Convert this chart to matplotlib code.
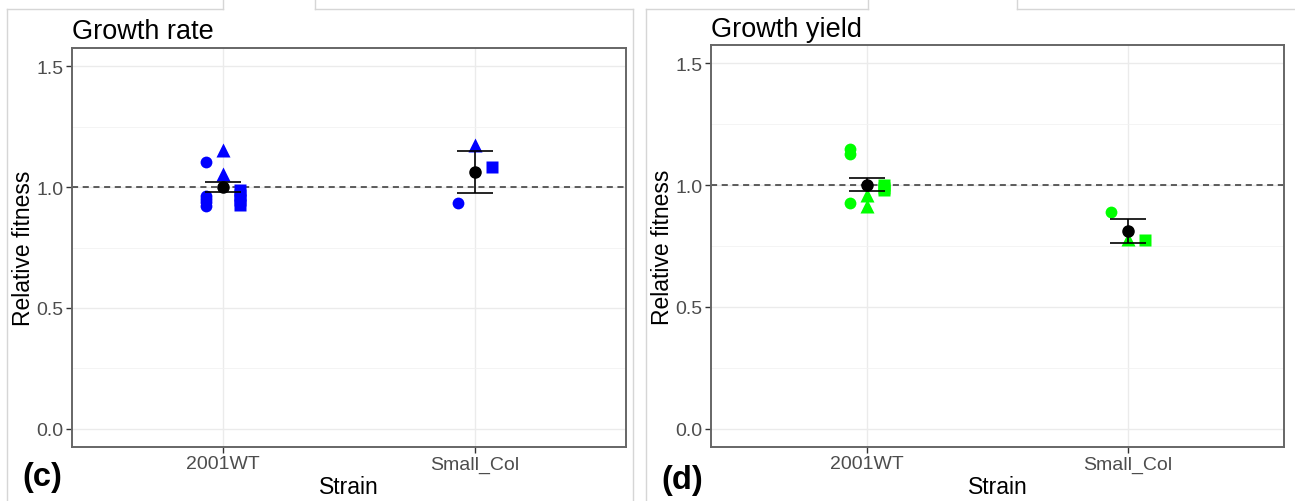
import matplotlib
matplotlib.use("Agg")
import matplotlib.pyplot as plt
from matplotlib.lines import Line2D
from matplotlib.ticker import MultipleLocator
import numpy as np

plt.rcParams['font.family'] = ['Liberation Sans', 'DejaVu Sans']

strains = ["2001WT", "Small_Col"]

# Growth rate replicates (relative fitness), grouped by replicate set / marker shape
rate_circle = {"2001WT": [1.102, 0.963, 0.950, 0.937, 0.923], "Small_Col": [0.933]}
rate_triangle = {"2001WT": [1.153, 1.052], "Small_Col": [1.174]}
rate_square = {"2001WT": [0.988, 0.967, 0.947, 0.926], "Small_Col": [1.084]}
rate_mean = [1.000, 1.062]
rate_err = [0.021, 0.085]

# Growth yield replicates
yield_circle = {"2001WT": [1.150, 1.127, 0.928], "Small_Col": [0.888]}
yield_triangle = {"2001WT": [0.958, 0.915], "Small_Col": [0.780]}
yield_square = {"2001WT": [1.000, 0.990, 0.979], "Small_Col": [0.774]}
yield_mean = [1.002, 0.811]
yield_err = [0.026, 0.048]

y_ticks = [0.0, 0.5, 1.0, 1.5]
y_tick_labels = ["0.0", "0.5", "1.0", "1.5"]

W, H = 1295, 502
fig = plt.figure(figsize=(W / 100, H / 100), dpi=100)

def box(l, t, r, b):
    return [l / W, 1 - b / H, (r - l) / W, (b - t) / H]

ax1 = fig.add_axes(box(72, 49, 626, 448))
ax2 = fig.add_axes(box(711, 46, 1284, 448))

tick_col = "#4d4d4d"
dodge = 0.066

def draw_panel(ax, circ, tri, sq, means, errs, color, title, tag, title_xy, tag_xy):
    ax.set_xlim(0.4, 2.6)
    ax.set_ylim(-0.075, 1.575)
    ax.set_yticks(y_ticks)
    ax.set_yticklabels(y_tick_labels)
    ax.yaxis.set_minor_locator(MultipleLocator(0.25))
    ax.set_xticks([1, 2])
    ax.set_xticklabels(strains)
    ax.grid(True, which="major", color="#ebebeb", lw=1.0, zorder=0)
    ax.grid(True, which="minor", axis="y", color="#f2f2f2", lw=0.6, zorder=0)
    ax.set_axisbelow(True)
    ax.tick_params(axis="both", which="major", length=4, width=1, color="#333333",
                   labelcolor=tick_col, labelsize=14, pad=2)
    ax.tick_params(axis="y", which="minor", length=0)
    for s in ax.spines.values():
        s.set_color("#666666")
        s.set_linewidth(1.4)

    ax.axhline(1.0, color="#333333", lw=1.1, ls=(0, (4, 3)), zorder=2)

    for i, st in enumerate(strains):
        x = i + 1
        ax.plot([x - dodge] * len(circ[st]), circ[st], ls="none", marker="o",
                ms=8.5, color=color, mec="none", zorder=3)
        ax.plot([x] * len(tri[st]), tri[st], ls="none", marker="^",
                ms=10, color=color, mec="none", zorder=3)
        ax.plot([x + dodge] * len(sq[st]), sq[st], ls="none", marker="s",
                ms=8, color=color, mec="none", zorder=3)

    xs = np.arange(1, len(strains) + 1)
    ax.errorbar(xs, means, yerr=errs, fmt="o", ms=8, color="black",
                ecolor="black", elinewidth=1.2, capsize=13, capthick=1.2, zorder=4)

    ax.set_xlabel("Strain", fontsize=16.5, color="black", labelpad=2)
    ax.set_ylabel("Relative fitness", fontsize=16.5, color="black", labelpad=1)

    fig.text(title_xy[0] / W, 1 - title_xy[1] / H, title, fontsize=19.5,
             ha="left", va="baseline")
    fig.text(tag_xy[0] / W, 1 - tag_xy[1] / H, tag, fontsize=23.5,
             fontweight="bold", ha="left", va="baseline")

draw_panel(ax1, rate_circle, rate_triangle, rate_square, rate_mean, rate_err,
           "#0000ff", "Growth rate", "(c)", (72, 39), (22, 486))
draw_panel(ax2, yield_circle, yield_triangle, yield_square, yield_mean, yield_err,
           "#00ff00", "Growth yield", "(d)", (711, 37), (661, 489))

# light frame lines around the two panels
frame_col = "#d6d6d6"
segments = [
    ((7, 10), (7, 502)), ((7, 10), (223, 10)), ((223, 0), (223, 10)),
    ((315, 0), (315, 10)), ((315, 10), (633, 10)), ((633, 10), (633, 502)),
    ((646, 10), (646, 502)), ((646, 10), (868, 10)), ((868, 0), (868, 10)),
    ((1017, 0), (1017, 10)), ((1017, 10), (1295, 10)),
]
for (x0, y0), (x1, y1) in segments:
    fig.add_artist(Line2D([x0 / W, x1 / W], [1 - y0 / H, 1 - y1 / H],
                          transform=fig.transFigure, color=frame_col, lw=1.0))

fig.savefig("out.png", dpi=100)
